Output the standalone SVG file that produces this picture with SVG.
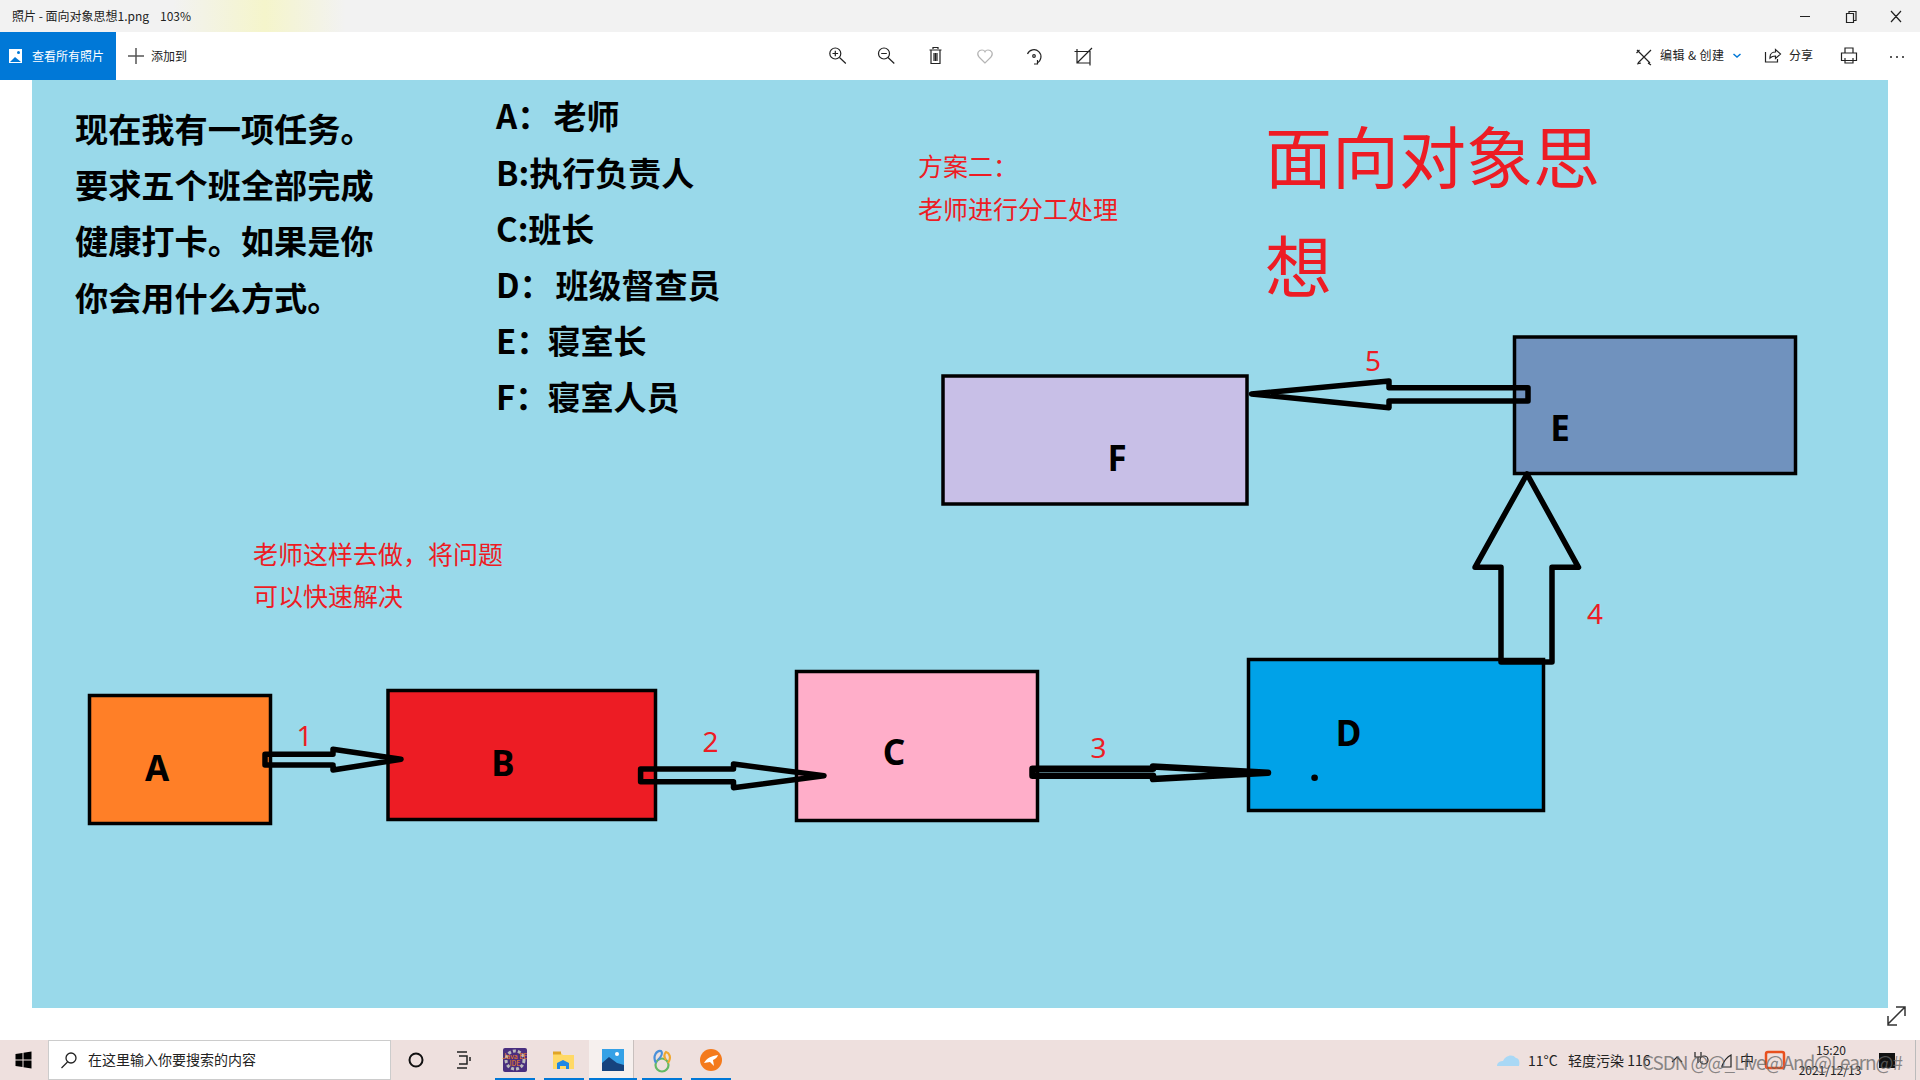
<svg xmlns="http://www.w3.org/2000/svg" width="1920" height="1080" viewBox="0 0 1920 1080">
<style>
text{font-family:"Noto Sans CJK SC","Noto Sans",sans-serif}
.ui{font-size:12px;fill:#222}
.task{font-size:14px;fill:#222}
.bold{font-weight:700;fill:#000}
.big{font-size:33.200px}
.list{font-size:33px}
.red{fill:#ed1c24}
.red25{font-size:25px}
.num{font-size:28px;text-anchor:middle;font-family:"Noto Sans",sans-serif;fill:#ed1c24}
.lab{font-size:35px;font-weight:700;text-anchor:middle;font-family:"Noto Sans",sans-serif;fill:#000}
.box{stroke:#000;stroke-width:3.5}
.arrow{fill:none;stroke:#000;stroke-width:5.5;stroke-linejoin:round;stroke-linecap:round}
.icon{fill:none;stroke:#222;stroke-width:1.2}
</style>
<defs>
<linearGradient id="tb" x1="0" x2="1" y1="0" y2="0">
<stop offset="0" stop-color="#f2f2f2"/><stop offset=".09" stop-color="#f2f2f2"/><stop offset=".138" stop-color="#f5f5cb"/><stop offset=".18" stop-color="#f2f2f2"/><stop offset="1" stop-color="#f2f2f2"/>
</linearGradient>
</defs>
<rect width="1920" height="1080" fill="#fff"/>
<rect width="1920" height="32" fill="url(#tb)"/>
<text class="ui" x="12" y="20.500">照片 - 面向对象思想1.png</text>
<text class="ui" x="160" y="20.500">103%</text>
<path class="icon" d="M1800 16.500h10M1846.500 13.500h7v9h-7zM1849 13.500v-2h7v9h-2.500M1891 11l10 11M1901 11l-10 11"/>
<rect y="32" width="116" height="48" fill="#0078d7"/>
<rect x="9" y="49" width="13" height="14" fill="#fff"/>
<path d="M10 62l5-5 6 5z" fill="#0078d7"/><circle cx="18.500" cy="52.500" r="1.500" fill="#0078d7"/>
<text class="ui" x="32" y="60.500" style="fill:#fff">查看所有照片</text>
<path d="M128 56h16M136 48v16" stroke="#555" stroke-width="1.500" fill="none"/>
<text class="ui" x="151" y="60.500">添加到</text>
<g class="icon">
<circle cx="835.300" cy="53.500" r="5.500"/><path d="M839.500 57.500l6.300 6M832.500 53.500h5.600M835.300 50.700v5.600"/>
<circle cx="884" cy="53.500" r="5.500"/><path d="M888 57.500l6.300 6M881.200 53.500h5.600"/>
<path d="M929.500 50h12M931 50v13.500h9V50M933 49v-1.500h5V49M934 53v8M935.500 53v8M937 53v8"/>
<path stroke="#b5b5b5" d="M985 63l-6-6c-3-4 0-7 3-7 1.500 0 2.500.8 3 1.800.5-1 1.500-1.800 3-1.800 3 0 6 3 3 7z"/>
<path d="M1027.500 54a7 7 0 1 1 9.500 9M1037.500 60v4h-3.500"/><circle cx="1034" cy="56" r="1.300"/>
<path d="M1077 49v14h13M1074.500 51.500h2.500M1077 51.500h13v14M1077 63l13-13M1090 50l2-2"/>
<path d="M1637 50l13 13M1651 50l-13 13M1636.500 53l3-3M1648 63l3 2M1637 64l4-1"/>
<path d="M1765.500 52v10h12v-3M1770 57c0-3.500 3-5 5.500-5V49.500l5 4.500-5 4.500V56c-2.500 0-4 .5-5.500 2z"/>
<path d="M1845 53v-5h8v5M1841.500 53h15v7.500h-15zM1845 58v5h8v-5"/>
</g>
<text class="ui" x="1660" y="60" style="letter-spacing:.4px">编辑 &amp; 创建</text>
<path d="M1733.500 54l3.500 3 3.500-3" fill="none" stroke="#0078d7" stroke-width="1.500"/>
<text class="ui" x="1789" y="60">分享</text>
<g fill="#222"><circle cx="1891" cy="57" r="1"/><circle cx="1897" cy="57" r="1"/><circle cx="1903" cy="57" r="1"/></g>

<rect x="32" y="80" width="1856" height="928" fill="#99d9ea"/>
<path d="M1888 1024l17-17M1896 1007h9v9M1888 1016v9h9" fill="none" stroke="#333" stroke-width="1.500"/>

<text class="bold big" x="75" y="142">现在我有一项任务。</text>
<text class="bold big" x="75" y="198">要求五个班全部完成</text>
<text class="bold big" x="75" y="254">健康打卡。如果是你</text>
<text class="bold big" x="75" y="311">你会用什么方式。</text>

<text class="bold list" x="496" y="129">A：<tspan x="553.500">老师</tspan></text>
<text class="bold list" x="496" y="185.500">B:执行负责人</text>
<text class="bold list" x="496" y="241.500">C:班长</text>
<text class="bold list" x="496" y="297.500">D：<tspan x="555.500">班级督查员</tspan></text>
<text class="bold list" x="496" y="354">E：<tspan x="547.500">寝室长</tspan></text>
<text class="bold list" x="496" y="410">F：<tspan x="547.500">寝室人员</tspan></text>

<text class="red red25" x="918" y="176">方案二：</text>
<text class="red red25" x="918" y="219">老师进行分工处理</text>
<text class="red" x="1265" y="183" font-size="67">面向对象思</text>
<text class="red" x="1265" y="292" font-size="67">想</text>
<text class="red red25" x="253" y="564">老师这样去做，将问题</text>
<text class="red red25" x="253" y="606">可以快速解决</text>

<g id="node-A"><rect class="box" x="89.500" y="695.500" width="181" height="128" fill="#ff7f27"/><text class="lab" x="157" y="781">A</text></g>
<g id="node-B"><rect class="box" x="388" y="690.500" width="267.500" height="129" fill="#ed1c24"/><text class="lab" x="503" y="776">B</text></g>
<g id="node-C"><rect class="box" x="796.500" y="671.500" width="241" height="149" fill="#ffaec9"/><text class="lab" x="894" y="765">C</text></g>
<g id="node-D"><rect class="box" x="1248.500" y="659.500" width="295" height="151" fill="#00a2e8"/><text class="lab" x="1348.500" y="745.500">D</text><circle cx="1314.600" cy="777.700" r="3.300" fill="#000"/></g>
<g id="node-E"><rect class="box" x="1514.500" y="337" width="281" height="136.500" fill="#7092be"/><text class="lab" x="1560" y="441">E</text></g>
<g id="node-F"><rect class="box" x="943" y="376" width="304" height="128" fill="#c8bfe7"/><text class="lab" x="1117" y="471">F</text></g>

<g id="connectors">
<path class="arrow" d="M265 754.300H333V749.300L401 759.300L333 770V765H265Z"/>
<path class="arrow" d="M640.600 769H733.500V764L824 775.700L733.500 787.700V781.700H640.600Z"/>
<path class="arrow" d="M1032.500 768.800H1153V766.500L1268 772.700L1153 779V775.800H1032.500Z" style="stroke-width:6.500"/>
<path class="arrow" d="M1501 662V567.300H1475L1527 474L1578.500 567.300H1552V662Z"/>
<path class="arrow" d="M1528 387.700H1389V381L1251.500 394L1389 407.700V401H1528Z"/>
</g>
<text class="num" x="304.500" y="746">1</text>
<text class="num" x="710.500" y="752">2</text>
<text class="num" x="1098.500" y="758">3</text>
<text class="num" x="1595" y="624">4</text>
<text class="num" x="1373" y="371">5</text>

<rect y="1040" width="1920" height="40" fill="#eee0de"/>
<path d="M15.500 1054l7-1v6.500h-7zM23.500 1052.800l8-1.200v8h-8zM15.500 1060.500h7v6.500l-7-1zM23.500 1060.500h8v8l-8-1.200z" fill="#000"/>
<rect x="48.500" y="1040.500" width="342" height="39" fill="#fff" stroke="#ccc"/>
<circle cx="71" cy="1058" r="5" fill="none" stroke="#222" stroke-width="1.300"/><path d="M67.500 1062l-6 6" stroke="#222" stroke-width="1.300"/>
<text class="task" x="88" y="1065">在这里输入你要搜索的内容</text>
<circle cx="416" cy="1060" r="6.500" fill="none" stroke="#111" stroke-width="2"/>
<path d="M457 1052h10M459 1056h8v8h-8M457 1068h10M470 1057v4" fill="none" stroke="#222" stroke-width="1.500"/>
<rect x="589" y="1040" width="44" height="40" fill="#f6f0ee"/>
<rect x="633" y="1040" width="1" height="40" fill="#c8c0be"/>
<rect x="503" y="1048" width="24" height="24" rx="2" fill="#4a2f7f"/>
<circle cx="515" cy="1060" r="9" fill="none" stroke="#bbb" stroke-width="3" stroke-dasharray="3 2"/>
<text x="515" y="1059" font-size="7" text-anchor="middle" fill="#f58220">Java EE</text>
<text x="515" y="1066" font-size="7" text-anchor="middle" fill="#f58220">IDE</text>
<path d="M553 1053h8l2 2h11v14h-21z" fill="#ffd966"/><path d="M553 1051.500h8v3h-8z" fill="#e0a526"/><path d="M557 1063l6-3 6 3v6h-3v-3h-6v3h-3z" fill="#1e88e5"/>
<rect x="602" y="1049" width="22" height="22" fill="#35a1e6"/><path d="M602 1071v-8l7-6 8 6 7 2v6z" fill="#16437e"/><circle cx="617" cy="1054" r="2" fill="#fff"/>
<g fill="none" stroke-width="2.200"><circle cx="662" cy="1065" r="6.500" stroke="#64b964"/><path d="M656 1063c-4-7 1-13 5-12 2 2 0 6-3 9" stroke="#4a90d9"/><path d="M668 1063c4-6 1-10-2-11-2 2-2 5 0 8" stroke="#f0a830"/></g>
<circle cx="711" cy="1060" r="11" fill="#f47a1c"/><path d="M704 1063c3-5 7-7 14-8-1 3-3 4-5 5l1 6-4-4z" fill="#fff"/>
<g fill="#0078d7"><rect x="495" y="1078" width="40" height="2"/><rect x="544" y="1078" width="40" height="2"/><rect x="589" y="1078" width="48" height="2"/><rect x="642" y="1078" width="40" height="2"/><rect x="691" y="1078" width="40" height="2"/></g>

<path d="M1497 1066c0-4 4-5 6-5 2-5 9-8 13-3 3 0 4 4 3 8z" fill="#a9d8f5"/>
<text class="task" x="1528" y="1066" font-size="15">11°C</text>
<text class="task" x="1568" y="1066">轻度污染 116</text>
<path class="icon" d="M1672 1062l5-5 5 5M1695 1052v5h6v-5M1698 1057v6"/>
<circle class="icon" cx="1704" cy="1060" r="4"/>
<path class="icon" d="M1722 1066c2-5 5-9 9-11v12h-9z"/>
<text class="task" x="1740" y="1065">中</text>
<rect x="1766" y="1052" width="18" height="16" rx="2" fill="none" stroke="#e8501e" stroke-width="2.500"/>
<text x="1831" y="1055" font-size="12" text-anchor="middle" fill="#222">15:20</text>
<text x="1830" y="1075" font-size="12" text-anchor="middle" fill="#222">2021/12/13</text>
<rect x="1879" y="1053" width="16" height="15" fill="#111"/>
<text x="1642" y="1070" font-size="19" fill="#666" fill-opacity=".75" textLength="261" lengthAdjust="spacing">CSDN @@_Live@And@Learn@#</text>
<rect x="1915" y="1040" width="1" height="40" fill="#bbb"/>
</svg>
